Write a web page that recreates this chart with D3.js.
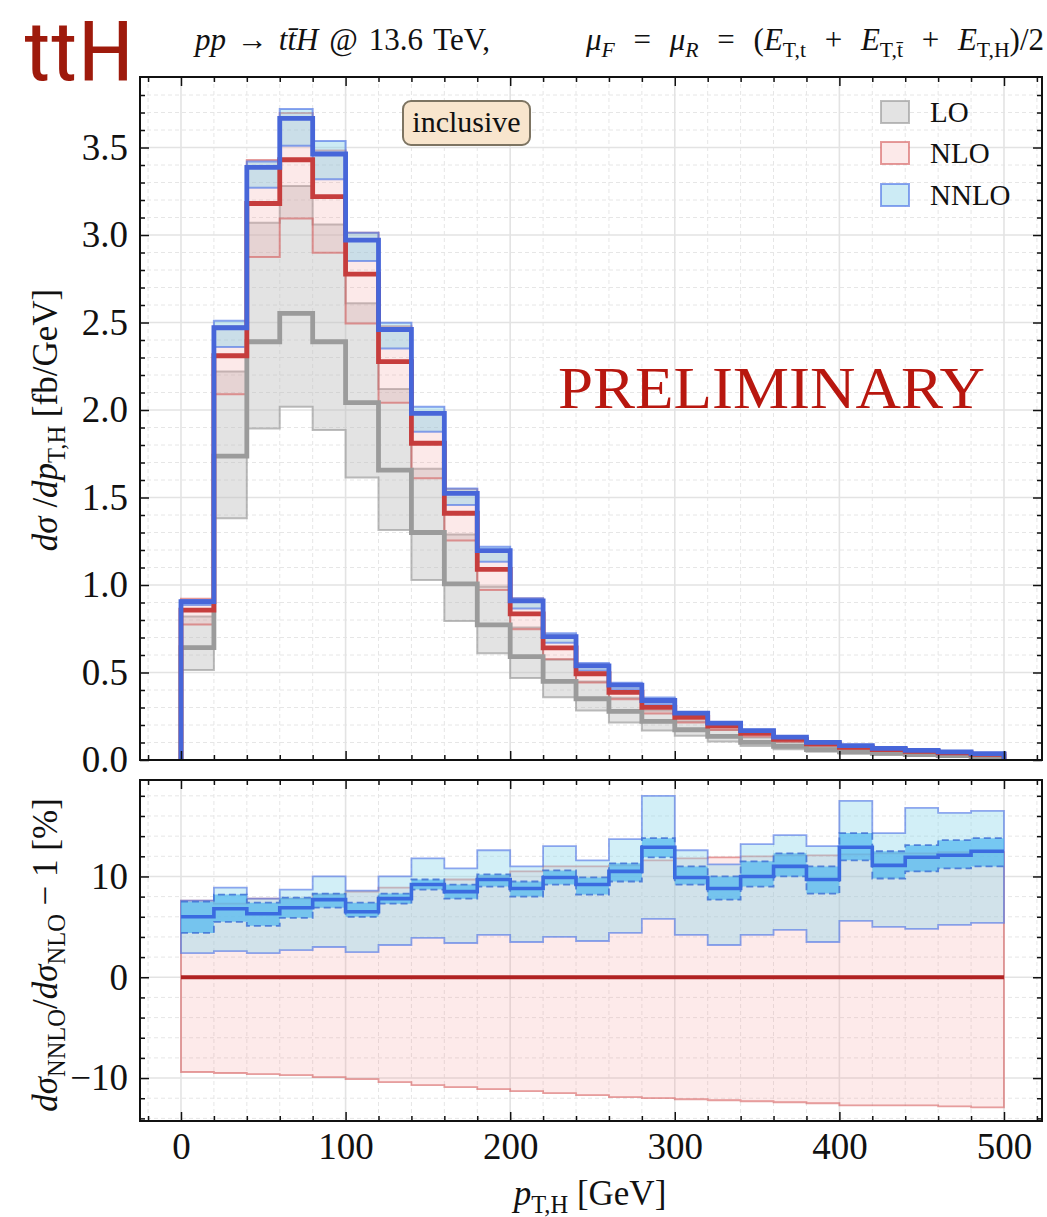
<!DOCTYPE html>
<html>
<head>
<meta charset="utf-8">
<script src="https://cdn.jsdelivr.net/npm/d3@7"></script>
<style>
  body { margin: 0; background: #fff; }
</style>
</head>
<body>
<svg id="chart" width="1047" height="1217"></svg>
<script>
// ---- binning (p_T,H in GeV) ----
const binEdges = d3.range(0, 501, 20);

// ---- upper panel: dσ/dp_T,H [fb/GeV] ----
const loCentral = [0.642, 1.737, 2.39, 2.552, 2.39, 2.042, 1.657, 1.30, 1.006, 0.772, 0.591, 0.449, 0.350, 0.278, 0.221, 0.173, 0.135, 0.101, 0.078, 0.059, 0.046, 0.038, 0.031, 0.025, 0.020];
const loLow     = [0.514, 1.381, 1.895, 2.019, 1.886, 1.615, 1.314, 1.029, 0.795, 0.610, 0.468, 0.359, 0.283, 0.215, 0.169, 0.139, 0.106, 0.080, 0.062, 0.047, 0.036, 0.030, 0.024, 0.020, 0.016];
const loHigh    = [0.820, 2.220, 3.070, 3.280, 3.060, 2.610, 2.120, 1.665, 1.288, 0.990, 0.757, 0.575, 0.448, 0.356, 0.283, 0.221, 0.173, 0.129, 0.100, 0.076, 0.059, 0.049, 0.040, 0.032, 0.026];

const nloCentral = [0.857, 2.310, 3.180, 3.430, 3.219, 2.777, 2.276, 1.810, 1.410, 1.089, 0.835, 0.641, 0.493, 0.387, 0.301, 0.244, 0.194, 0.153, 0.118, 0.092, 0.073, 0.060, 0.049, 0.041, 0.032];
const nloLow     = [0.775, 2.090, 2.875, 3.095, 2.899, 2.495, 2.042, 1.610, 1.255, 0.971, 0.747, 0.576, 0.443, 0.347, 0.266, 0.215, 0.171, 0.135, 0.104, 0.081, 0.064, 0.052, 0.043, 0.036, 0.028];
const nloHigh    = [0.922, 2.479, 3.428, 3.697, 3.483, 3.013, 2.479, 1.977, 1.547, 1.198, 0.923, 0.712, 0.547, 0.430, 0.336, 0.273, 0.217, 0.171, 0.132, 0.103, 0.082, 0.067, 0.055, 0.046, 0.036];

const nnloCentral = [0.905, 2.470, 3.386, 3.667, 3.463, 2.971, 2.460, 1.981, 1.524, 1.196, 0.909, 0.705, 0.538, 0.428, 0.340, 0.268, 0.211, 0.168, 0.131, 0.101, 0.082, 0.067, 0.055, 0.046, 0.036];
const nnloLow     = [0.886, 2.360, 3.270, 3.510, 3.318, 2.851, 2.352, 1.876, 1.457, 1.133, 0.866, 0.670, 0.511, 0.404, 0.318, 0.254, 0.200, 0.159, 0.124, 0.095, 0.077, 0.063, 0.051, 0.043, 0.034];
const nnloHigh    = [0.914, 2.510, 3.420, 3.720, 3.537, 3.013, 2.499, 2.019, 1.552, 1.219, 0.924, 0.724, 0.555, 0.442, 0.357, 0.275, 0.216, 0.173, 0.135, 0.104, 0.086, 0.069, 0.057, 0.048, 0.037];

// ---- lower panel: dσ_NNLO/dσ_NLO − 1 [%] ----
const ratioNloLow  = [-9.4, -9.5, -9.6, -9.7, -9.9, -10.1, -10.4, -10.7, -10.9, -11.1, -11.3, -11.5, -11.7, -11.9, -12.0, -12.1, -12.2, -12.3, -12.4, -12.5, -12.7, -12.7, -12.7, -12.8, -12.9];
const ratioNloHigh = [7.6, 7.3, 7.8, 7.8, 8.2, 8.5, 8.9, 9.2, 9.7, 10.0, 10.5, 11.0, 11.0, 11.1, 11.6, 11.8, 11.9, 12.0, 12.1, 12.1, 12.2, 12.3, 12.3, 12.4, 12.4];
const ratioNnlo      = [6.0, 6.8, 6.3, 6.9, 7.7, 6.5, 7.8, 9.2, 8.5, 9.7, 8.8, 9.9, 9.2, 10.5, 12.9, 9.9, 8.8, 10.0, 11.0, 9.7, 12.9, 11.1, 11.9, 12.1, 12.5];
const ratioScaleLow  = [2.4, 2.6, 2.4, 2.7, 3.0, 2.5, 3.2, 3.9, 3.4, 4.2, 3.5, 4.0, 3.6, 4.4, 5.8, 4.2, 3.2, 4.2, 4.7, 3.5, 5.6, 5.0, 4.8, 5.2, 5.4];
const ratioScaleHigh = [7.6, 8.9, 7.8, 8.7, 10.0, 8.6, 10.0, 11.8, 10.8, 12.6, 11.0, 13.0, 11.6, 13.7, 18.0, 12.6, 11.2, 13.2, 14.1, 13.0, 17.5, 14.3, 16.8, 16.3, 16.5];
const ratioStatLow   = [4.4, 5.5, 5.1, 5.9, 6.9, 6.0, 7.3, 8.7, 7.8, 9.0, 8.0, 9.2, 8.2, 9.5, 11.9, 9.2, 7.7, 9.0, 10.0, 8.3, 11.6, 9.8, 10.5, 10.8, 11.0];
const ratioStatHigh  = [7.5, 8.2, 7.4, 7.9, 8.3, 7.4, 8.3, 9.7, 9.2, 10.2, 9.5, 10.6, 9.9, 11.3, 13.8, 11.0, 10.0, 11.5, 12.3, 11.0, 14.3, 12.5, 13.1, 13.6, 13.8];

// ---- tick labels ----
const xTicks = [0, 100, 200, 300, 400, 500];
const mainYTicks = [0, 0.5, 1.0, 1.5, 2.0, 2.5, 3.0, 3.5];
const ratioYTicks = [-10, 0, 10];
const legendLabels = ["LO", "NLO", "NNLO"];

// ---- layout ----
const SERIF = "'Liberation Serif', 'DejaVu Serif', serif";
const L = 140, R = 1042;
const mainTop = 77, mainBot = 760;
const ratTop = 780, ratBot = 1121;

const svg = d3.select("#chart");

const x = d3.scaleLinear().domain([-24.9, 523.1]).range([L, R]);
const yMain = d3.scaleLinear().domain([0, 3.903]).range([mainBot, mainTop]);
const yRat = d3.scaleLinear().domain([-14.26, 19.57]).range([ratBot, ratTop]);

const style = {
  lo:   { fill: "#bdbdbd", fillOp: 0.42, edge: "#9a9a9a", edgeOp: 0.65, line: "#9b9b9b" },
  nlo:  { fill: "#f39a9a", fillOp: 0.22, edge: "#d45a5a", edgeOp: 0.6,  line: "#c63d3d" },
  nnlo: { fill: "#86cfe8", fillOp: 0.42, edge: "#4f74e6", edgeOp: 0.65, line: "#4766d9" }
};

// step helpers
function stepPoints(vals, withBase) {
  const pts = [];
  if (withBase) pts.push([binEdges[0], 0]);
  vals.forEach((v, i) => { pts.push([binEdges[i], v]); pts.push([binEdges[i + 1], v]); });
  if (withBase) pts.push([binEdges[binEdges.length - 1], 0]);
  return pts;
}
function bandPoints(lo, hi) {
  const pts = [];
  lo.forEach((v, i) => {
    pts.push({ x: binEdges[i], lo: v, hi: hi[i] });
    pts.push({ x: binEdges[i + 1], lo: v, hi: hi[i] });
  });
  return pts;
}

// clip paths
const defs = svg.append("defs");
defs.append("clipPath").attr("id", "clipMain").append("rect")
  .attr("x", L).attr("y", mainTop).attr("width", R - L).attr("height", mainBot - mainTop);
defs.append("clipPath").attr("id", "clipRat").append("rect")
  .attr("x", L).attr("y", ratTop).attr("width", R - L).attr("height", ratBot - ratTop);

const mainMinorY = d3.range(0.1, 3.9, 0.1).filter(v => Math.abs(v * 2 - Math.round(v * 2)) > 1e-6);
const ratMinorY = d3.range(-14, 20, 2).filter(v => v % 10 !== 0);

// grid
function drawGrid(g, yScale, yMajor, yMinor, top, bot) {
  const xMajor = d3.range(0, 501, 100);
  const xMinor = d3.range(-20, 521, 20).filter(v => v % 100 !== 0);
  g.selectAll(".gxm").data(xMinor).join("line")
    .attr("x1", d => x(d)).attr("x2", d => x(d)).attr("y1", top).attr("y2", bot)
    .attr("stroke", "#e6e6e6").attr("stroke-width", 1).attr("stroke-dasharray", "4,3");
  g.selectAll(".gym").data(yMinor).join("line")
    .attr("x1", L).attr("x2", R).attr("y1", d => yScale(d)).attr("y2", d => yScale(d))
    .attr("stroke", "#e6e6e6").attr("stroke-width", 1).attr("stroke-dasharray", "4,3");
  g.selectAll(".gxM").data(xMajor).join("line")
    .attr("x1", d => x(d)).attr("x2", d => x(d)).attr("y1", top).attr("y2", bot)
    .attr("stroke", "#e3e3e3").attr("stroke-width", 1.6);
  g.selectAll(".gyM").data(yMajor).join("line")
    .attr("x1", L).attr("x2", R).attr("y1", d => yScale(d)).attr("y2", d => yScale(d))
    .attr("stroke", "#e3e3e3").attr("stroke-width", 1.6);
}

// ================= main panel =================
const gMainGrid = svg.append("g").attr("clip-path", "url(#clipMain)");
drawGrid(gMainGrid, yMain, mainYTicks, mainMinorY, mainTop, mainBot);

const gMain = svg.append("g").attr("clip-path", "url(#clipMain)");
const areaMain = d3.area().x(d => x(d.x)).y0(d => yMain(d.lo)).y1(d => yMain(d.hi));
const lineMain = d3.line().x(d => x(d[0])).y(d => yMain(d[1]));

const bandsMain = [
  { s: style.lo, lo: loLow, hi: loHigh },
  { s: style.nlo, lo: nloLow, hi: nloHigh },
  { s: style.nnlo, lo: nnloLow, hi: nnloHigh }
];
bandsMain.forEach(b => {
  gMain.append("path").attr("d", areaMain(bandPoints(b.lo, b.hi)))
    .attr("fill", b.s.fill).attr("fill-opacity", b.s.fillOp)
    .attr("stroke", b.s.edge).attr("stroke-opacity", b.s.edgeOp).attr("stroke-width", 2)
    .attr("stroke-linejoin", "miter");
});
[[loCentral, style.lo], [nloCentral, style.nlo], [nnloCentral, style.nnlo]].forEach(([vals, s]) => {
  gMain.append("path").attr("d", lineMain(stepPoints(vals, true)))
    .attr("fill", "none").attr("stroke", s.line).attr("stroke-width", 4.8)
    .attr("stroke-linejoin", "miter");
});

// ================= ratio panel =================
const gRatGrid = svg.append("g").attr("clip-path", "url(#clipRat)");
drawGrid(gRatGrid, yRat, ratioYTicks, ratMinorY, ratTop, ratBot);

const gRat = svg.append("g").attr("clip-path", "url(#clipRat)");
const areaRat = d3.area().x(d => x(d.x)).y0(d => yRat(d.lo)).y1(d => yRat(d.hi));
const lineRat = d3.line().x(d => x(d[0])).y(d => yRat(d[1]));

// NLO scale band
gRat.append("path").attr("d", areaRat(bandPoints(ratioNloLow, ratioNloHigh)))
  .attr("fill", "#f28c8c").attr("fill-opacity", 0.18)
  .attr("stroke", "#d65f5f").attr("stroke-opacity", 0.6).attr("stroke-width", 1.8);
// NNLO scale band
gRat.append("path").attr("d", areaRat(bandPoints(ratioScaleLow, ratioScaleHigh)))
  .attr("fill", "#8ed6ea").attr("fill-opacity", 0.4)
  .attr("stroke", "#5679e6").attr("stroke-opacity", 0.65).attr("stroke-width", 1.8);
// NNLO statistical band
gRat.append("path").attr("d", areaRat(bandPoints(ratioStatLow, ratioStatHigh)))
  .attr("fill", "#4fb8f0").attr("fill-opacity", 0.7).attr("stroke", "none");
[ratioStatLow, ratioStatHigh].forEach(vals => {
  gRat.append("path").attr("d", lineRat(stepPoints(vals, false)))
    .attr("fill", "none").attr("stroke", "#3f72d6").attr("stroke-opacity", 0.85)
    .attr("stroke-width", 1.8).attr("stroke-dasharray", "7,4");
});
// NLO reference line
gRat.append("path").attr("d", lineRat([[0, 0], [500, 0]]))
  .attr("fill", "none").attr("stroke", "#b02222").attr("stroke-width", 4);
// NNLO central
gRat.append("path").attr("d", lineRat(stepPoints(ratioNnlo, false)))
  .attr("fill", "none").attr("stroke", "#3a6be0").attr("stroke-width", 3.6);

// ================= axes (inward ticks on all sides) =================
function tickAxes(yScale, top, bot, yMajor, yMinor, yFmt, xLabels) {
  const xMinor = d3.range(-20, 521, 20).filter(v => v % 100 !== 0);
  const common = g => {
    g.select(".domain").remove();
    g.selectAll(".tick line").attr("stroke", "#111").attr("stroke-width", 1.5);
    g.selectAll("text").attr("font-family", SERIF).attr("font-size", 37).attr("fill", "#111");
  };
  // bottom
  svg.append("g").attr("transform", `translate(0,${bot})`)
    .call(d3.axisBottom(x).tickValues(xTicks).tickSize(-9).tickPadding(12)
      .tickFormat(xLabels ? d3.format("d") : () => "")).call(common);
  svg.append("g").attr("transform", `translate(0,${bot})`)
    .call(d3.axisBottom(x).tickValues(xMinor).tickSize(-5).tickFormat(() => "")).call(common);
  // top
  svg.append("g").attr("transform", `translate(0,${top})`)
    .call(d3.axisTop(x).tickValues(xTicks).tickSize(-9).tickFormat(() => "")).call(common);
  svg.append("g").attr("transform", `translate(0,${top})`)
    .call(d3.axisTop(x).tickValues(xMinor).tickSize(-5).tickFormat(() => "")).call(common);
  // left
  svg.append("g").attr("transform", `translate(${L},0)`)
    .call(d3.axisLeft(yScale).tickValues(yMajor).tickSize(-9).tickPadding(12).tickFormat(yFmt)).call(common);
  svg.append("g").attr("transform", `translate(${L},0)`)
    .call(d3.axisLeft(yScale).tickValues(yMinor).tickSize(-5).tickFormat(() => "")).call(common);
  // right
  svg.append("g").attr("transform", `translate(${R},0)`)
    .call(d3.axisRight(yScale).tickValues(yMajor).tickSize(-9).tickFormat(() => "")).call(common);
  svg.append("g").attr("transform", `translate(${R},0)`)
    .call(d3.axisRight(yScale).tickValues(yMinor).tickSize(-5).tickFormat(() => "")).call(common);
  // frame
  svg.append("rect").attr("x", L).attr("y", top).attr("width", R - L).attr("height", bot - top)
    .attr("fill", "none").attr("stroke", "#111").attr("stroke-width", 2);
}
tickAxes(yMain, mainTop, mainBot, mainYTicks, mainMinorY, d3.format(".1f"), false);
tickAxes(yRat, ratTop, ratBot, ratioYTicks, ratMinorY, d3.format("d"), true);

// ================= text helpers =================
function addRuns(sel, parts, fs) {
  let shifted = false;
  parts.forEach(p => {
    const ts = sel.append("tspan").text(p.t);
    if (p.it) ts.attr("font-style", "italic");
    if (p.sub) {
      ts.attr("font-size", fs * 0.7);
      if (!shifted) { ts.attr("dy", fs * 0.22); shifted = true; }
    } else if (shifted) {
      ts.attr("dy", -fs * 0.22); shifted = false;
    }
  });
}
// math-style line: widen only the spaces around operators to reach a given width
function mathLine(x0, y0, fs, parts, width) {
  const t = svg.append("text").attr("x", x0).attr("y", y0)
    .attr("font-family", SERIF).attr("font-size", fs).attr("fill", "#111");
  addRuns(t, parts, fs);
  const nSpaces = parts.map(p => p.t).join("").split(" ").length - 1;
  const w = t.node().getComputedTextLength();
  if (nSpaces > 0 && w < width) t.attr("word-spacing", (width - w) / nSpaces);
  return t;
}

// title tag
svg.append("text").attr("x", 24).attr("y", 80)
  .attr("font-family", "'Liberation Sans Narrow', 'Roboto Condensed', 'Liberation Sans', sans-serif")
  .attr("font-size", 84).attr("fill", "#9e1a0c")
  .attr("textLength", 110).attr("lengthAdjust", "spacingAndGlyphs")
  .text("ttH");

// process header
mathLine(195, 50, 31, [
  { t: "pp", it: true }, { t: " → " }, { t: "t", it: true }, { t: "t\u0304", it: true }, { t: "H", it: true },
  { t: " @ 13.6 TeV," }
], 295);

mathLine(586, 50, 31, [
  { t: "μ", it: true }, { t: "F", it: true, sub: true }, { t: " = " },
  { t: "μ", it: true }, { t: "R", it: true, sub: true }, { t: " = (" },
  { t: "E", it: true }, { t: "T,t", sub: true }, { t: " + " },
  { t: "E", it: true }, { t: "T,t\u0304", sub: true }, { t: " + " },
  { t: "E", it: true }, { t: "T,H", sub: true }, { t: ")/2" }
], 458);

// axis titles
const yl1 = svg.append("text").attr("transform", "translate(57,420) rotate(-90)")
  .attr("text-anchor", "middle").attr("font-family", SERIF).attr("font-size", 35).attr("fill", "#111");
addRuns(yl1, [
  { t: "dσ", it: true }, { t: " /" }, { t: "dp", it: true }, { t: "T,H", sub: true }, { t: " [fb/GeV]" }
], 35);

const yl2 = svg.append("text").attr("transform", "translate(57,955) rotate(-90)")
  .attr("text-anchor", "middle").attr("font-family", SERIF).attr("font-size", 35).attr("fill", "#111");
addRuns(yl2, [
  { t: "dσ", it: true }, { t: "NNLO", sub: true }, { t: "/" }, { t: "dσ", it: true }, { t: "NLO", sub: true },
  { t: " − 1 [%]" }
], 35);

const xl = svg.append("text").attr("x", 590).attr("y", 1205)
  .attr("text-anchor", "middle").attr("font-family", SERIF).attr("font-size", 35).attr("fill", "#111");
addRuns(xl, [{ t: "p", it: true }, { t: "T,H", sub: true }, { t: " [GeV]" }], 35);

// watermark
svg.append("text").attr("x", 558).attr("y", 408)
  .attr("font-family", SERIF).attr("font-size", 60).attr("fill", "#b8170f")
  .attr("textLength", 427).attr("lengthAdjust", "spacingAndGlyphs")
  .text("PRELIMINARY");

// inclusive tag
svg.append("rect").attr("x", 403).attr("y", 101).attr("width", 127).attr("height", 44).attr("rx", 8)
  .attr("fill", "#f8e5cd").attr("stroke", "#7d7462").attr("stroke-width", 2);
svg.append("text").attr("x", 466.5).attr("y", 132).attr("text-anchor", "middle")
  .attr("font-family", SERIF).attr("font-size", 30).attr("fill", "#111").text("inclusive");

// legend
const legStyles = [style.lo, style.nlo, style.nnlo];
const legY = [112, 153, 195];
legendLabels.forEach((lab, i) => {
  const s = legStyles[i];
  svg.append("rect").attr("x", 881).attr("y", legY[i] - 11).attr("width", 28).attr("height", 22)
    .attr("fill", "#fff");
  svg.append("rect").attr("x", 881).attr("y", legY[i] - 11).attr("width", 28).attr("height", 22)
    .attr("fill", s.fill).attr("fill-opacity", s.fillOp)
    .attr("stroke", s.edge).attr("stroke-opacity", s.edgeOp).attr("stroke-width", 2);
  svg.append("text").attr("x", 930).attr("y", legY[i] + 10)
    .attr("font-family", SERIF).attr("font-size", 29).attr("fill", "#111").text(lab);
});
</script>
</body>
</html>
